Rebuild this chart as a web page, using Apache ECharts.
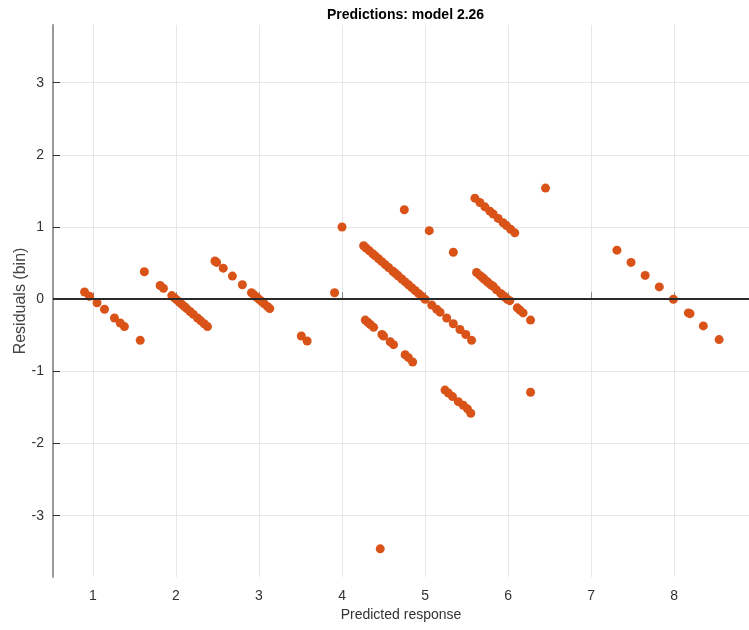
<!DOCTYPE html>
<html>
<head>
<meta charset="utf-8">
<script src="https://cdn.jsdelivr.net/npm/echarts@6/dist/echarts.min.js"></script>
<style>
  html, body { margin: 0; padding: 0; background: #fff; }
  #chart { width: 749px; height: 630px; }
</style>
</head>
<body>
<div id="chart"></div>
<script>
// predicted response (x) for each observation
const predicted = [
  0.90, 0.96, 1.05, 1.14, 1.26, 1.33, 1.38, 1.57, 1.62,
  1.81, 1.85, 1.95, 1.98, 2.01, 2.04, 2.07, 2.10, 2.13, 2.17, 2.21, 2.26, 2.30, 2.34, 2.38,
  2.47, 2.49, 2.57, 2.68, 2.80, 2.91, 2.94, 2.97, 3.00, 3.03, 3.06, 3.10, 3.13,
  3.51, 3.58, 3.91, 4.00, 4.75, 5.05, 5.34, 6.45, 4.46, 6.27,
  4.26, 4.29, 4.33, 4.37, 4.40, 4.44, 4.48, 4.52, 4.56, 4.61, 4.63, 4.66, 4.68, 4.72, 4.76,
  4.80, 4.84, 4.88, 4.92, 4.96, 5.00, 5.08, 5.14, 5.18, 5.26, 5.34, 5.42, 5.49, 5.56,
  4.28, 4.31, 4.34, 4.38, 4.48, 4.50, 4.58, 4.62, 4.76, 4.80, 4.85,
  5.60, 5.66, 5.72, 5.78, 5.82, 5.88, 5.94, 5.98, 6.03, 6.08,
  5.62, 5.66, 5.69, 5.71, 5.74, 5.76, 5.79, 5.82, 5.86, 5.91, 5.94, 5.96, 5.99, 6.02, 6.11, 6.14, 6.18, 6.27,
  5.24, 5.28, 5.33, 5.40, 5.46, 5.51, 5.55,
  7.31, 7.48, 7.65, 7.82, 7.99, 8.17, 8.19, 8.35, 8.54
];

// residuals (bin) for each observation
const residuals = [
  0.10, 0.04, -0.05, -0.14, -0.26, -0.33, -0.38, -0.57, 0.38,
  0.19, 0.15, 0.05, 0.02, -0.01, -0.04, -0.07, -0.10, -0.13, -0.17, -0.21, -0.26, -0.30, -0.34, -0.38,
  0.53, 0.51, 0.43, 0.32, 0.20, 0.09, 0.06, 0.03, 0.00, -0.03, -0.06, -0.10, -0.13,
  -0.51, -0.58, 0.09, 1.00, 1.24, 0.95, 0.65, 1.54, -3.46, -1.29,
  0.74, 0.71, 0.67, 0.63, 0.60, 0.56, 0.52, 0.48, 0.44, 0.39, 0.37, 0.34, 0.32, 0.28, 0.24,
  0.20, 0.16, 0.12, 0.08, 0.04, 0.00, -0.08, -0.14, -0.18, -0.26, -0.34, -0.42, -0.49, -0.57,
  -0.29, -0.32, -0.35, -0.39, -0.49, -0.51, -0.59, -0.63, -0.77, -0.81, -0.87,
  1.40, 1.34, 1.28, 1.22, 1.18, 1.12, 1.06, 1.02, 0.97, 0.92,
  0.37, 0.33, 0.30, 0.28, 0.25, 0.23, 0.20, 0.18, 0.13, 0.08, 0.05, 0.03, 0.00, -0.02, -0.12, -0.15, -0.19, -0.29,
  -1.26, -1.30, -1.35, -1.42, -1.47, -1.52, -1.58,
  0.68, 0.51, 0.33, 0.17, 0.00, -0.19, -0.20, -0.37, -0.56
];

const points = predicted.map((x, i) => [x, residuals[i]]);

const chart = echarts.init(document.getElementById('chart'));

const font = 'Liberation Sans, Arial, sans-serif';

chart.setOption({
  animation: false,
  title: {
    text: 'Predictions: model 2.26',
    left: 322,
    top: 3,
    textStyle: { fontFamily: font, fontSize: 14, fontWeight: 'bold', color: '#000' }
  },
  grid: { left: 53, right: 0, top: 25, bottom: 53, outerBoundsMode: 'none' },
  xAxis: {
    type: 'value',
    min: 0.52,
    max: 8.9,
    minInterval: 1,
    maxInterval: 1,
    name: 'Predicted response',
    nameLocation: 'middle',
    nameGap: 31,
    nameMoveOverlap: false,
    nameTextStyle: { fontFamily: font, fontSize: 14, color: '#333' },
    axisLine: { show: true, lineStyle: { color: '#9a9a9a', width: 2 } },
    axisTick: { show: true, inside: true, length: 7, lineStyle: { color: '#888' } },
    axisLabel: { fontFamily: font, fontSize: 14, color: '#333', margin: 12, showMinLabel: false, showMaxLabel: false },
    splitLine: { show: true, showMinLine: false, showMaxLine: false, lineStyle: { color: '#e6e6e6', width: 1 } }
  },
  yAxis: {
    type: 'value',
    min: -3.85,
    max: 3.8,
    minInterval: 1,
    maxInterval: 1,
    name: 'Residuals (bin)',
    nameLocation: 'middle',
    nameGap: 24,
    nameRotate: 90,
    nameMoveOverlap: false,
    nameTextStyle: { fontFamily: font, fontSize: 16, color: '#444' },
    axisLine: { show: true, lineStyle: { color: '#9a9a9a', width: 2 } },
    axisTick: { show: true, inside: true, length: 7, lineStyle: { color: '#333' } },
    axisLabel: { fontFamily: font, fontSize: 14, color: '#333', margin: 9, showMinLabel: false, showMaxLabel: false },
    splitLine: { show: true, showMinLine: false, showMaxLine: false, lineStyle: { color: '#e6e6e6', width: 1 } }
  },
  series: [
    {
      type: 'scatter',
      data: points,
      symbol: 'circle',
      symbolSize: 9,
      itemStyle: { color: '#d95319', opacity: 1 },
      markLine: {
        silent: true,
        symbol: 'none',
        label: { show: false },
        lineStyle: { color: '#2a2a2a', width: 2, type: 'solid' },
        data: [{ yAxis: 0 }]
      },
      z: 3
    }
  ]
});
</script>
</body>
</html>
